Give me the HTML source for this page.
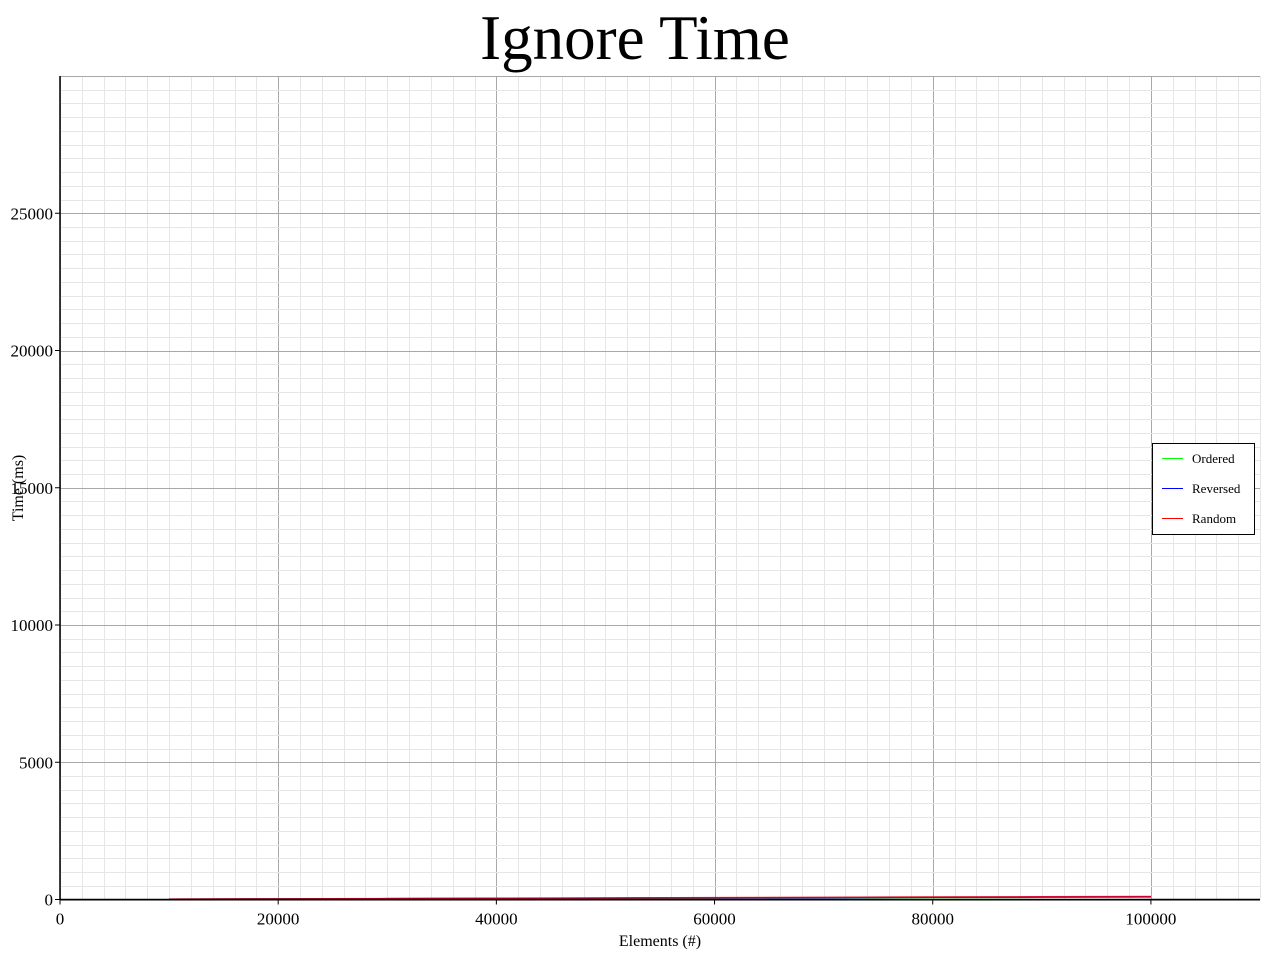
<!DOCTYPE html>
<html><head><meta charset="utf-8"><style>
body{margin:0;background:#fff}
svg text{font-family:"Liberation Serif",serif}
</style></head><body>
<svg id="chart" width="1280" height="960">
<text x="635" y="59" font-size="63" text-anchor="middle">Ignore Time</text>
<g id="grid"></g>
<g id="series"></g>
<g id="axes"></g>
<text x="660" y="946" font-size="16" text-anchor="middle">Elements (#)</text>
<text x="23" y="488" font-size="16" text-anchor="middle" transform="rotate(-90 23 488)">Time (ms)</text>
<g>
<rect x="1152.5" y="443.5" width="102" height="91" fill="#fff" stroke="#000"/>
<line x1="1162" y1="458.5" x2="1183" y2="458.5" stroke="#00ff00"/>
<text x="1192" y="463" font-size="13">Ordered</text>
<line x1="1162" y1="488.5" x2="1183" y2="488.5" stroke="#0000ff"/>
<text x="1192" y="493" font-size="13">Reversed</text>
<line x1="1162" y1="518.5" x2="1183" y2="518.5" stroke="#ff0000"/>
<text x="1192" y="523" font-size="13">Random</text>
</g>
</svg>
<script>
const elements=[10000,20000,30000,40000,50000,60000,70000,80000,90000,100000];
const ordered=[8,17,26,35,44,53,62,71,80,90];
const reversed=[10,20,30,40,50,60,70,80,90,100];
const random=[12,23,34,45,56,67,78,89,100,110];
const xTicks=[0,20000,40000,60000,80000,100000];
const yTicks=[0,5000,10000,15000,20000,25000];
const X0=60,X1=1260,Y0=899.5,Y1=76,XMAX=110000,YMAX=30000;
const xs=v=>X0+v/XMAX*(X1-X0);
const ys=v=>Y0-v/YMAX*(Y0-Y1);
const NS="http://www.w3.org/2000/svg";
function mk(t,a,p){const e=document.createElementNS(NS,t);for(const k in a)e.setAttribute(k,a[k]);p.appendChild(e);return e;}
const grid=document.getElementById('grid'),axes=document.getElementById('axes'),ser=document.getElementById('series');
for(let v=0;v<=XMAX;v+=2000){const x=Math.round(xs(v))+0.5;const l=mk('line',{x1:x,x2:x,y1:Y1,y2:Y0,stroke:v%20000===0?'#a8a8a8':'#e6e6e6'},grid);

}
for(let v=0;v<=YMAX;v+=500){const y=Math.round(ys(v))+0.5;const l=mk('line',{x1:X0,x2:X1,y1:y,y2:y,stroke:v%5000===0?'#a8a8a8':'#e6e6e6'},grid);

}
mk('line',{x1:X0,x2:X0,y1:Y1,y2:Y0,stroke:'#000','stroke-width':1.5},axes);
mk('line',{x1:X0,x2:X1,y1:Y0,y2:Y0,stroke:'#000','stroke-width':1.5},axes);
xTicks.forEach(v=>{const x=xs(v);mk('line',{x1:x,x2:x,y1:Y0,y2:Y0+5,stroke:'#000'},axes);
const t=mk('text',{x:x,y:Y0+25,'font-size':17,'text-anchor':'middle'},axes);t.textContent=v;

});
yTicks.forEach(v=>{const y=ys(v);mk('line',{x1:X0-5,x2:X0,y1:y,y2:y,stroke:'#000'},axes);
const t=mk('text',{x:X0-7,y:y+6,'font-size':17,'text-anchor':'end'},axes);t.textContent=v;

});
[[ordered,'#00ff00','ordered'],[reversed,'#0000ff','reversed'],[random,'#ff0000','random']].forEach(([d,c,n])=>{
const p=mk('polyline',{points:elements.map((e,i)=>xs(e)+','+ys(d[i])).join(' '),fill:'none',stroke:c,'stroke-width':1.5,'stroke-opacity':n==='random'?0.8:1},ser);

});
</script>
</body></html>
